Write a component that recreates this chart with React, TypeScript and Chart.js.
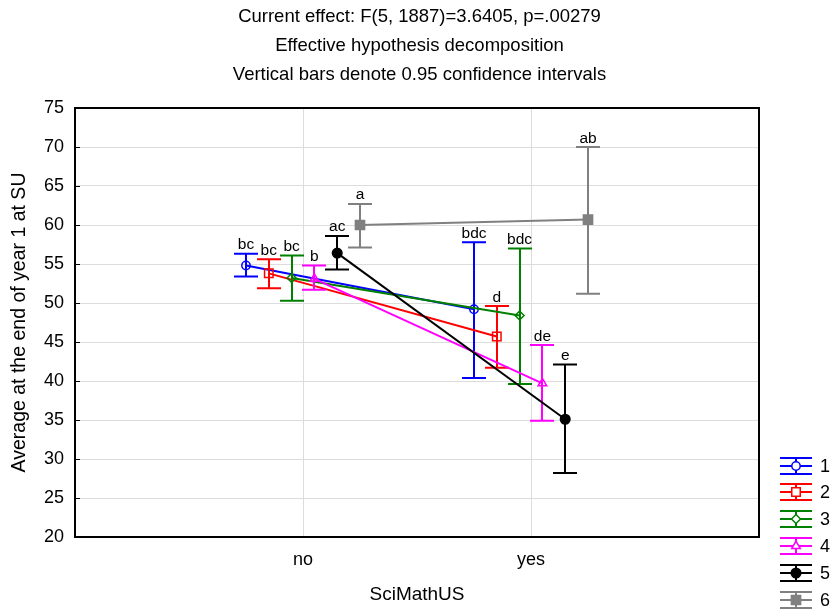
import React, { useEffect, useRef } from 'react';
import { Chart, registerables } from 'chart.js';
import { drawPoint } from 'chart.js/helpers';

Chart.register(...registerables);

// ---- data ----
const categories = ['no', 'yes'];
const seriesNames = ['1', '2', '3', '4', '5', '6'];
const titleLines = [
  'Current effect: F(5, 1887)=3.6405, p=.00279',
  'Effective hypothesis decomposition',
  'Vertical bars denote 0.95 confidence intervals',
];
const yAxisTitle = 'Average at the end of year 1 at SU';
const xAxisTitle = 'SciMathUS';

const mean1 = [54.8, 49.2];
const low1 = [53.4, 40.4];
const high1 = [56.3, 57.8];
const letters1 = ['bc', 'bdc'];

const mean2 = [53.8, 45.7];
const low2 = [51.9, 41.7];
const high2 = [55.6, 49.6];
const letters2 = ['bc', 'd'];

const mean3 = [53.2, 48.4];
const low3 = [50.3, 39.6];
const high3 = [56.1, 57.0];
const letters3 = ['bc', 'bdc'];

const mean4 = [53.1, 39.7];
const low4 = [51.7, 34.9];
const high4 = [54.8, 44.6];
const letters4 = ['b', 'de'];

const mean5 = [56.4, 35.1];
const low5 = [54.3, 28.2];
const high5 = [58.6, 42.1];
const letters5 = ['ac', 'e'];

const mean6 = [60.0, 60.7];
const low6 = [57.1, 51.2];
const high6 = [62.7, 70.0];
const letters6 = ['a', 'ab'];

const yMin = 20;
const yMax = 75;
const yStep = 5;

// ---- styling ----
const means = [mean1, mean2, mean3, mean4, mean5, mean6];
const lows = [low1, low2, low3, low4, low5, low6];
const highs = [high1, high2, high3, high4, high5, high6];
const letters = [letters1, letters2, letters3, letters4, letters5, letters6];
const colors = ['#0000FF', '#FF0000', '#008000', '#FF00FF', '#000000', '#808080'];
const offsets = [-0.25, -0.15, -0.05, 0.05, 0.15, 0.25];
const pointStyles = ['circle', 'rect', 'rectRot', 'triangle', 'circle', 'rect'];
const pointRadii = [4.2, 6, 4.5, 5, 4.8, 6.5];
const filled = [false, false, false, false, true, true];
const FONT = '"Liberation Sans", Arial, sans-serif';
const CAP = 12;

const errorBarPlugin = {
  id: 'errorBars',
  beforeDatasetDraw(chart: any, args: any) {
    const i = args.index;
    const xs = chart.scales.x;
    const ys = chart.scales.y;
    const ctx = chart.ctx;
    ctx.save();
    ctx.strokeStyle = colors[i];
    ctx.lineWidth = 2;
    for (let c = 0; c < categories.length; c++) {
      const px = Math.round(xs.getPixelForValue(c + 1 + offsets[i]));
      const pl = ys.getPixelForValue(lows[i][c]);
      const ph = ys.getPixelForValue(highs[i][c]);
      ctx.beginPath();
      ctx.moveTo(px, pl);
      ctx.lineTo(px, ph);
      ctx.moveTo(px - CAP, pl);
      ctx.lineTo(px + CAP, pl);
      ctx.moveTo(px - CAP, ph);
      ctx.lineTo(px + CAP, ph);
      ctx.stroke();
    }
    ctx.restore();
  },
  afterDatasetsDraw(chart: any) {
    const xs = chart.scales.x;
    const ys = chart.scales.y;
    const ctx = chart.ctx;
    ctx.save();
    ctx.fillStyle = '#000';
    ctx.font = `15.5px ${FONT}`;
    ctx.textAlign = 'center';
    ctx.textBaseline = 'alphabetic';
    for (let i = 0; i < means.length; i++) {
      for (let c = 0; c < categories.length; c++) {
        const px = xs.getPixelForValue(c + 1 + offsets[i]);
        const ph = ys.getPixelForValue(highs[i][c]);
        ctx.fillText(letters[i][c], px, ph - 4.5);
      }
    }
    ctx.restore();
  },
  afterDraw(chart: any) {
    const ctx = chart.ctx;
    const area = chart.chartArea;
    const ys = chart.scales.y;
    ctx.save();
    // inward tick marks
    ctx.strokeStyle = '#000';
    ctx.lineWidth = 1;
    ys.ticks.forEach((t: any) => {
      const py = Math.round(ys.getPixelForValue(t.value)) + 0.5;
      ctx.beginPath();
      ctx.moveTo(area.left, py);
      ctx.lineTo(area.left + 5, py);
      ctx.stroke();
    });
    // frame
    ctx.lineWidth = 2;
    ctx.strokeStyle = '#000';
    ctx.strokeRect(area.left, area.top, area.right - area.left, area.bottom - area.top);
    // title
    ctx.fillStyle = '#000';
    ctx.font = `18.5px ${FONT}`;
    ctx.textAlign = 'center';
    ctx.textBaseline = 'middle';
    titleLines.forEach((t, k) => ctx.fillText(t, 419.5, 16.5 + k * 29));
    // legend
    for (let i = 0; i < seriesNames.length; i++) {
      const cy = Math.round(465.5 + i * 26.8);
      const x0 = 780;
      const x1 = 812;
      const cx = 796;
      ctx.strokeStyle = colors[i];
      ctx.lineWidth = 2;
      ctx.beginPath();
      ctx.moveTo(x0, cy - 8);
      ctx.lineTo(x1, cy - 8);
      ctx.moveTo(x0, cy);
      ctx.lineTo(x1, cy);
      ctx.moveTo(x0, cy + 8);
      ctx.lineTo(x1, cy + 8);
      ctx.moveTo(cx, cy - 8);
      ctx.lineTo(cx, cy + 8);
      ctx.stroke();
      ctx.lineWidth = 1.5;
      ctx.fillStyle = filled[i] ? colors[i] : '#fff';
      drawPoint(ctx, { pointStyle: pointStyles[i], radius: pointRadii[i], rotation: 0, borderWidth: 1.5 } as any, cx, cy);
      ctx.fillStyle = '#000';
      ctx.font = `18px ${FONT}`;
      ctx.textAlign = 'left';
      ctx.textBaseline = 'middle';
      ctx.fillText(seriesNames[i], 820, cy + 1);
    }
    ctx.restore();
  },
};

export default function App() {
  const ref = useRef<HTMLCanvasElement | null>(null);
  useEffect(() => {
    document.body.style.margin = '0';
    const canvas = ref.current;
    if (!canvas) return;
    const datasets = means.map((m, i) => ({
      label: seriesNames[i],
      data: m.map((v, c) => ({ x: c + 1 + offsets[i], y: v })),
      showLine: true,
      borderColor: colors[i],
      borderWidth: 2,
      backgroundColor: filled[i] ? colors[i] : 'rgba(0,0,0,0)',
      pointStyle: pointStyles[i],
      pointRadius: pointRadii[i],
      pointBorderWidth: 1.5,
      pointBorderColor: colors[i],
      pointBackgroundColor: filled[i] ? colors[i] : 'rgba(0,0,0,0)',
      tension: 0,
      order: 10 - i,
    }));
    const chart = new Chart(canvas, {
      type: 'scatter',
      data: { datasets },
      plugins: [errorBarPlugin],
      options: {
        animation: false,
        responsive: false,
        devicePixelRatio: 1,
        layout: { padding: { left: 0, top: 108, right: 72, bottom: 0 } },
        plugins: {
          legend: { display: false },
          title: { display: false },
          tooltip: { enabled: false },
        },
        scales: {
          x: {
            type: 'linear',
            min: 0,
            max: 3,
            afterBuildTicks: (scale: any) => {
              scale.ticks = categories.map((_, c) => ({ value: c + 1 }));
            },
            afterFit: (scale: any) => {
              scale.height = 73;
            },
            ticks: {
              callback: (v: any) => categories[Number(v) - 1] ?? '',
              color: '#000',
              font: { family: FONT, size: 18 },
              padding: 12,
              autoSkip: false,
              maxRotation: 0,
            },
            grid: { color: '#dcdcdc', drawTicks: false, lineWidth: 1 },
            border: { display: false },
            title: {
              display: true,
              text: xAxisTitle,
              color: '#000',
              font: { family: FONT, size: 19 },
              padding: { top: 0, bottom: 4 },
            },
          },
          y: {
            type: 'linear',
            min: yMin,
            max: yMax,
            afterFit: (scale: any) => {
              scale.width = 75;
            },
            ticks: {
              stepSize: yStep,
              color: '#000',
              font: { family: FONT, size: 18 },
              padding: 11,
            },
            grid: { color: '#dcdcdc', drawTicks: false, lineWidth: 1 },
            border: { display: false },
            title: {
              display: true,
              text: yAxisTitle,
              color: '#000',
              font: { family: FONT, size: 19.5 },
              padding: { top: 8, bottom: 0 },
            },
          },
        },
      } as any,
    });
    return () => chart.destroy();
  }, []);
  return (
    <div style={{ width: 831, height: 610 }}>
      <canvas ref={ref} width={831} height={610} />
    </div>
  );
}
